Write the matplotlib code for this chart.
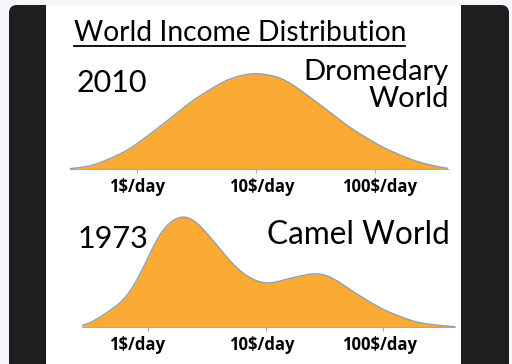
import matplotlib.pyplot as plt
import numpy as np
from matplotlib.patches import FancyBboxPatch, Rectangle

plt.rcParams['font.family'] = ['Lato', 'DejaVu Sans']

# income on a log10 scale (0 = 1$/day), curve heights
x_2010 = [-0.56, -0.37, -0.08, 0.19, 0.47, 0.76, 0.95, 1.03, 1.23, 1.51, 1.79, 2.07, 2.35, 2.61]
h_2010 = [0, 3, 18, 42, 69, 90, 96, 96, 91, 67, 41, 21, 7, 0]

x_1973 = [-0.56, -0.47, -0.18, -0.04, 0.10, 0.27, 0.38, 0.53, 0.67, 0.81, 0.95, 1.01,
          1.15, 1.44, 1.57, 1.72, 2.00, 2.29, 2.61]
h_1973 = [0, 5, 28, 58, 97, 113, 110, 90, 69, 52, 44, 42, 47, 55, 50, 37, 17, 4, 0]

tick_vals = [0, 1, 2]
tick_labels = ['1$/day', '10$/day', '100$/day']


def smooth(x, y, width=0.07):
    # dense line through the read points, softened with a small gaussian, only for drawing
    sx = np.linspace(x[0], x[-1], 600)
    sy = np.interp(sx, x, y)
    step = sx[1] - sx[0]
    k = np.arange(-int(3 * width / step), int(3 * width / step) + 1) * step
    kern = np.exp(-0.5 * (k / width) ** 2)
    kern /= kern.sum()
    pad = len(k) // 2
    sy = np.convolve(np.pad(sy, pad, mode='edge'), kern, mode='valid')
    return sx, np.clip(sy, 0, None)


fig = plt.figure(figsize=(5.12, 3.64), dpi=100)
fig.patch.set_facecolor('#f3f6fa')
bg = fig.add_axes([0, 0, 1, 1])
bg.set_xlim(0, 512)
bg.set_ylim(364, 0)
bg.axis('off')
bg.add_patch(FancyBboxPatch((9, 5), 500, 380, boxstyle='round,pad=0,rounding_size=8',
                            fc='#1e1e1e', ec='none'))
bg.add_patch(Rectangle((46, 5), 415, 365, fc='white', ec='none'))

bg.text(74, 41, 'World Income Distribution', fontsize=20.3, va='baseline')
bg.plot([74, 405], [46, 46], color='black', lw=1.3)

bg.text(77, 92, '2010', fontsize=22, va='baseline')
bg.text(449, 80, 'Dromedary', fontsize=21, va='baseline', ha='right')
bg.text(449, 107, 'World', fontsize=21, va='baseline', ha='right')
bg.text(78, 248, '1973', fontsize=22, va='baseline')
bg.text(450, 244, 'Camel World', fontsize=22.8, va='baseline', ha='right')

label_px = [137, 262, 380]
for y in (192, 350):
    for px, lab in zip(label_px, tick_labels):
        bg.text(px, y, lab, fontsize=12, fontweight='bold', ha='center', va='baseline',
                family='Open Sans')


def panel(rect, xs, hs, ytop):
    ax = fig.add_axes(rect)
    ax.set_facecolor('none')
    sx, sy = smooth(xs, hs)
    ax.fill_between(sx, sy, color='#fbab33', lw=0)
    ax.plot(sx, sy, color='#8c9db0', lw=1)
    ax.set_xlim(-0.563, 2.613)
    ax.set_ylim(0, ytop)
    for s in ('top', 'left', 'right'):
        ax.spines[s].set_visible(False)
    ax.spines['bottom'].set_color('#a8a8a8')
    ax.set_xticks(tick_vals)
    ax.set_xticklabels([])
    ax.set_yticks([])
    ax.tick_params(axis='x', length=3, color='#a8a8a8')
    return ax


panel([70 / 512, (364 - 169) / 364, 378 / 512, 100 / 364], x_2010, h_2010, 100)
panel([82 / 512, (364 - 327) / 364, 373 / 512, 120 / 364], x_1973, h_1973, 120)

fig.savefig('out.png', dpi=100, facecolor=fig.get_facecolor())
